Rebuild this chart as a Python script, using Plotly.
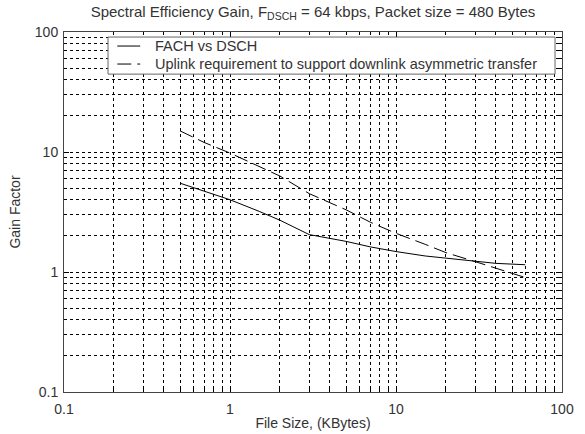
import plotly.graph_objects as go

file_size = [0.5, 0.7, 1, 1.5, 2, 3, 5, 7, 10, 15, 20, 30, 40, 60]
fach_vs_dsch = [5.5, 4.7, 4.0, 3.2, 2.7, 2.05, 1.8, 1.62, 1.48, 1.36, 1.3, 1.22, 1.18, 1.15]
uplink_req = [15.0, 12.0, 9.8, 7.5, 6.3, 4.5, 3.3, 2.6, 2.1, 1.7, 1.45, 1.22, 1.08, 0.9]
series_names = ["FACH vs DSCH", "Uplink requirement to support downlink asymmetric transfer"]

major_vals = [0.1, 1, 10, 100]
major_text = ["0.1", "1", "10", "100"]
minor_vals = [m * d for d in [0.1, 1, 10] for m in range(2, 10)]

TXT = "#333"
DASHES = ["solid", "14px,6px"]

fig = go.Figure()
for ys, name, dash in zip([fach_vs_dsch, uplink_req], series_names, DASHES):
    fig.add_trace(go.Scatter(x=file_size, y=ys, mode="lines", name=name,
                             line=dict(color="black", width=1, dash=dash)))

grid = dict(showgrid=True, gridcolor="black", gridwidth=1, griddash="3px,3px")
axis_common = dict(type="log", showline=True, linecolor="#444", linewidth=1, mirror="ticks",
                   ticks="inside", ticklen=5, tickcolor="black", automargin=False,
                   tickvals=major_vals, ticktext=major_text, zeroline=False,
                   tickfont=dict(size=14, color=TXT),
                   minor=dict(tickvals=minor_vals, ticks="inside", ticklen=3, tickcolor="black", **grid),
                   **grid)

fig.update_xaxes(range=[-1, 2], ticklabelstandoff=4,
                 title=dict(text="File Size, (KBytes)", font=dict(size=14, color=TXT), standoff=2),
                 **axis_common)
fig.update_yaxes(range=[-1, 2], ticklabelstandoff=2,
                 title=dict(text="Gain Factor", font=dict(size=14, color=TXT), standoff=10),
                 **axis_common)

# Custom MATLAB-style legend box (compact row spacing)
shapes = [dict(type="rect", xref="paper", yref="paper", x0=0.0884, x1=0.986, y0=0.883, y1=0.986,
               fillcolor="white", line=dict(color="#666", width=1), layer="above")]
annotations = []
row_y = [0.961, 0.911]
for name, dash, ry in zip(series_names, DASHES, row_y):
    shapes.append(dict(type="line", xref="paper", yref="paper", x0=0.107, x1=0.153, y0=ry, y1=ry,
                       line=dict(color="black", width=1, dash=dash), layer="above"))
    annotations.append(dict(text=name, xref="paper", yref="paper", x=0.180, y=ry, xanchor="left",
                            yanchor="middle", showarrow=False, borderpad=0,
                            font=dict(size=14.5, color=TXT)))

fig.update_layout(
    width=585, height=434,
    margin=dict(l=64, r=23, t=32, b=42),
    paper_bgcolor="white", plot_bgcolor="white",
    font=dict(family="Liberation Sans, Arial, sans-serif", size=14, color=TXT),
    title=dict(text="Spectral Efficiency Gain, F<sub>DSCH</sub> = 64 kbps, Packet size = 480 Bytes",
               x=0.5, xref="paper", xanchor="center", y=1 - 12 / 434, yref="container", yanchor="middle",
               font=dict(size=15, color=TXT)),
    showlegend=False,
    shapes=shapes,
    annotations=annotations,
)

fig.write_html("out.html", config={"displayModeBar": False},
               post_script="document.body.style.margin='0';document.body.style.overflow='hidden';")
